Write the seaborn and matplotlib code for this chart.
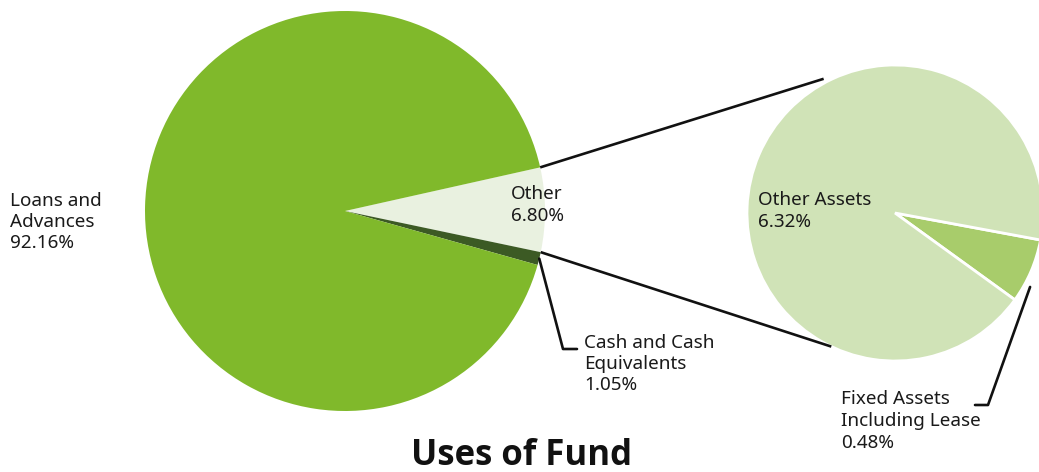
import numpy as np
import matplotlib
matplotlib.use("Agg")
import matplotlib.pyplot as plt
import seaborn as sns

# ---- data ----
main_labels = ["Other", "Cash and Cash\nEquivalents", "Loans and\nAdvances"]
main_values = [6.80, 1.05, 92.16]
main_colors = ["#e9f1e0", "#3c5a24", "#80b92b"]

sub_labels = ["Fixed Assets\nIncluding Lease", "Other Assets"]
sub_values = [0.48, 6.32]
sub_colors = ["#a8cc6b", "#d0e3b7"]

title = "Uses of Fund"

sns.set_theme(style="white")
plt.rcParams['font.family'] = ['Noto Sans', 'DejaVu Sans']

W, H = 1039, 472
fig = plt.figure(figsize=(W / 100, H / 100), dpi=100)
ax = fig.add_axes([0, 0, 1, 1])

# main pie
c1 = (345, H - 211)
r1 = 200
start1 = 12.6
ax.pie(main_values, colors=main_colors, center=c1, radius=r1,
       startangle=start1, counterclock=False,
       wedgeprops=dict(linewidth=0))

# sub pie
c2 = (895, H - 213)
r2 = 148
start2 = -10.5
ax.pie(sub_values, colors=sub_colors, center=c2, radius=r2,
       startangle=start2, counterclock=False,
       wedgeprops=dict(linewidth=2, edgecolor="white"))

ax.set_xlim(0, W)
ax.set_ylim(0, H)
ax.set_aspect('equal')
ax.axis('off')

def pt(c, r, ang):
    a = np.deg2rad(ang)
    return c[0] + r * np.cos(a), c[1] + r * np.sin(a)

# connector lines between pies
tot = sum(main_values)
other_span = main_values[0] / tot * 360
a_top = start1
a_bot = start1 - other_span
p1 = pt(c1, r1, a_top)
q1 = pt(c2, r2 + 4, 118)
p2 = pt(c1, r1, a_bot)
q2 = pt(c2, r2, -115.5)
lc = "#111111"
ax.plot([p1[0], q1[0]], [p1[1], q1[1]], color=lc, lw=1.9, solid_capstyle="butt")
ax.plot([p2[0], q2[0]], [p2[1], q2[1]], color=lc, lw=1.9, solid_capstyle="butt")

# leader line for cash
cash_mid = a_bot - main_values[1] / tot * 360 / 2
pc = pt(c1, r1, cash_mid)
ax.plot([pc[0], 563, 577], [pc[1], H - 349, H - 349], color=lc, lw=1.9)

# leader for fixed assets
pf = pt(c2, r2 + 6, -28.7)
ax.plot([pf[0], 988, 975], [pf[1], H - 405, H - 405], color=lc, lw=1.9)

fs = 13.6
tc = "#1a1a1a"
kw = dict(ha="left", va="center", fontsize=fs, linespacing=1.25, color=tc)
ax.text(10, H - 222, f"{main_labels[2]}\n{main_values[2]:.2f}%", **kw)
ax.text(511, H - 205, f"{main_labels[0]}\n{main_values[0]:.2f}%", **kw)
ax.text(584, H - 364, f"{main_labels[1]}\n{main_values[1]:.2f}%", **kw)
ax.text(758, H - 211, f"{sub_labels[1]}\n{sub_values[1]:.2f}%", **kw)
ax.text(841, H - 421, f"{sub_labels[0]}\n{sub_values[0]:.2f}%", **kw)

ax.text(522, H - 456, title, ha="center", va="center", fontsize=25,
        fontweight="bold", family=["Open Sans", "DejaVu Sans"], color="#111111")

fig.savefig("out.png", dpi=100)
